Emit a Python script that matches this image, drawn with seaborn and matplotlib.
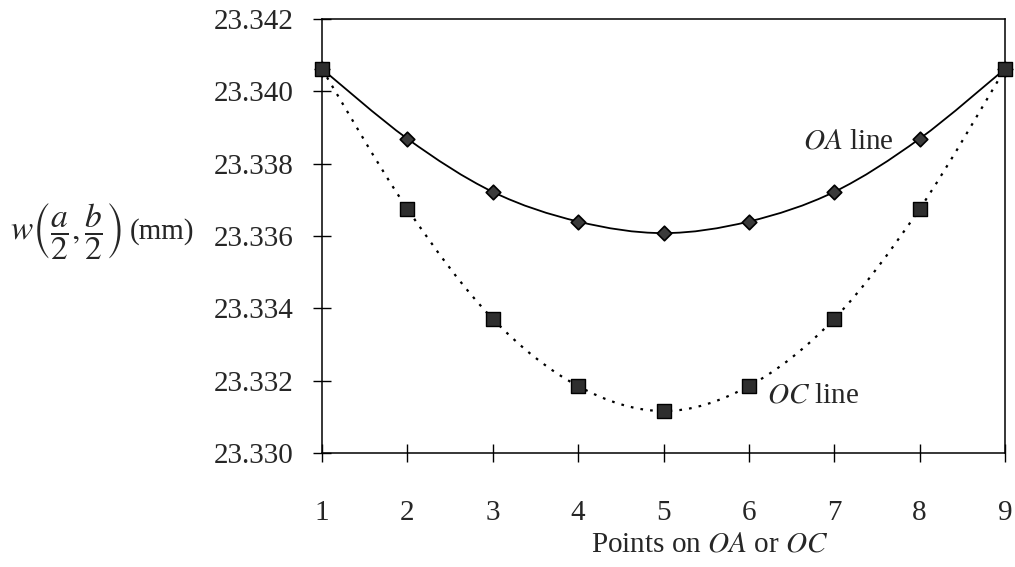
import numpy as np
import pandas as pd
import seaborn as sns
import matplotlib.pyplot as plt
from matplotlib.path import Path
from matplotlib.patches import PathPatch

# data
points = [1, 2, 3, 4, 5, 6, 7, 8, 9]
oa_line = [23.34062, 23.33869, 23.33722, 23.33640, 23.33608, 23.33640, 23.33722, 23.33869, 23.34062]
oc_line = [23.34062, 23.33675, 23.33371, 23.33185, 23.33116, 23.33185, 23.33371, 23.33675, 23.34062]
y_ticks = [23.330, 23.332, 23.334, 23.336, 23.338, 23.340, 23.342]

sns.set_style('white')
plt.rcParams['font.family'] = ['Liberation Serif', 'DejaVu Serif']
plt.rcParams['mathtext.fontset'] = 'stix'
plt.rcParams['font.size'] = 21


def smooth_path(x, y):
    # Excel-like smoothed line: cubic Bezier segments through the points
    x = np.asarray(x, float)
    y = np.asarray(y, float)
    verts = [(x[0], y[0])]
    codes = [Path.MOVETO]
    n = len(x)
    for i in range(n - 1):
        x0, y0 = (x[i - 1], y[i - 1]) if i > 0 else (x[i], y[i])
        x3, y3 = (x[i + 2], y[i + 2]) if i + 2 < n else (x[i + 1], y[i + 1])
        c1 = (x[i] + (x[i + 1] - x0) / 6, y[i] + (y[i + 1] - y0) / 6)
        c2 = (x[i + 1] - (x3 - x[i]) / 6, y[i + 1] - (y3 - y[i]) / 6)
        verts += [c1, c2, (x[i + 1], y[i + 1])]
        codes += [Path.CURVE4] * 3
    return Path(verts, codes)


df = pd.DataFrame({'point': points, 'OA': oa_line, 'OC': oc_line})

fig = plt.figure(figsize=(10.15, 5.67), dpi=100)
ax = fig.add_axes([322 / 1015, 1 - 453 / 567, (1005 - 322) / 1015, (453 - 19) / 567])

ax.add_patch(PathPatch(smooth_path(points, oa_line), fill=False, color='black', lw=1.3))
ax.add_patch(PathPatch(smooth_path(points, oc_line), fill=False, color='black', lw=1.6,
                       linestyle=(0, (1.2, 3.2))))

sns.scatterplot(data=df, x='point', y='OA', marker='D', s=55, color='#3a3a3a',
                edgecolor='black', linewidth=1.2, ax=ax, zorder=5, clip_on=False)
sns.scatterplot(data=df, x='point', y='OC', marker='s', s=110, color='#2e2e2e',
                edgecolor='black', linewidth=1.0, ax=ax, zorder=6, clip_on=False)

ax.set_xlim(1, 9)
ax.set_ylim(23.330, 23.342)
ax.set_xticks(points)
ax.set_yticks(y_ticks)
ax.set_yticklabels([f'{v:.3f}' for v in y_ticks])
ax.tick_params(axis='both', direction='inout', length=13, width=1, color='black',
               labelsize=21, bottom=True, left=True)
ax.tick_params(axis='x', pad=27)
ax.tick_params(axis='y', pad=14)
for s in ax.spines.values():
    s.set_visible(True)
    s.set_color('black')
    s.set_linewidth(1.1)

ax.set_xlabel('Points on $\\mathit{OA}$ or $\\mathit{OC}$', fontsize=21)
ax.xaxis.set_label_coords(0.567, -0.18)
ax.set_ylabel('')

ax.text(6.63, 23.3386, '$\\mathit{OA}$ line', fontsize=21, va='center', ha='left')
ax.text(6.21, 23.3316, '$\\mathit{OC}$ line', fontsize=21, va='center', ha='left')

fig.text(10 / 1015, 1 - 232 / 567, r'$w\left(\dfrac{a}{2},\dfrac{b}{2}\right)$',
         fontsize=24, va='center', ha='left')
fig.text(130 / 1015, 1 - 232 / 567, '(mm)', fontsize=21, va='center', ha='left')

plt.savefig('out.png', dpi=100)
